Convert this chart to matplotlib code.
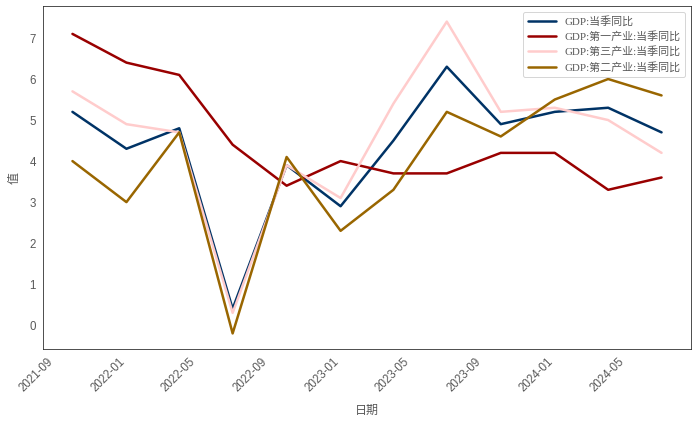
import numpy as np
import pandas as pd
import matplotlib
matplotlib.use("Agg")
import matplotlib.pyplot as plt
import seaborn as sns

# quarterly data, Q3 2021 - Q2 2024
dates = ["2021-09-30", "2021-12-31", "2022-03-31", "2022-06-30",
         "2022-09-30", "2022-12-31", "2023-03-31", "2023-06-30",
         "2023-09-30", "2023-12-31", "2024-03-31", "2024-06-30"]
gdp_total = [5.2, 4.3, 4.8, 0.4, 3.9, 2.9, 4.5, 6.3, 4.9, 5.2, 5.3, 4.7]
gdp_primary = [7.1, 6.4, 6.1, 4.4, 3.4, 4.0, 3.7, 3.7, 4.2, 4.2, 3.3, 3.6]
gdp_tertiary = [5.7, 4.9, 4.7, 0.3, 3.9, 3.1, 5.4, 7.4, 5.2, 5.3, 5.0, 4.2]
gdp_secondary = [4.0, 3.0, 4.7, -0.2, 4.1, 2.3, 3.3, 5.2, 4.6, 5.5, 6.0, 5.6]

labels = ["GDP:当季同比", "GDP:第一产业:当季同比",
          "GDP:第三产业:当季同比", "GDP:第二产业:当季同比"]
colors = ["#003366", "#990000", "#ffcccc", "#996600"]

sns.set_style("white")
plt.rcParams['font.family'] = ['Liberation Sans', 'Noto Sans CJK SC']
plt.rcParams['axes.unicode_minus'] = False

x = pd.to_datetime(dates)
series = [gdp_total, gdp_primary, gdp_tertiary, gdp_secondary]

fig = plt.figure(figsize=(700 / 72, 421 / 72), dpi=72)
ax = fig.add_axes([43 / 700, 1 - 349 / 421, (691 - 43) / 700, (349 - 6) / 421])

for y, lab, c in zip(series, labels, colors):
    ax.plot(x, y, color=c, linewidth=2.5, label=lab)

ax.set_xlabel("日期", fontsize=12, color=".35", labelpad=10)
ax.set_ylabel("值", fontsize=12, color=".35", labelpad=9)
ax.tick_params(axis='both', labelsize=11.5, colors=".35")
plt.setp(ax.get_xticklabels(), rotation=45, ha='right')

leg = ax.legend(loc="upper right", handlelength=2.6, labelspacing=0.4,
                prop={'family': ['Liberation Serif', 'Noto Sans CJK SC'], 'size': 11})
for t in leg.get_texts():
    t.set_color(".35")

fig.savefig("out.png", dpi=72)
